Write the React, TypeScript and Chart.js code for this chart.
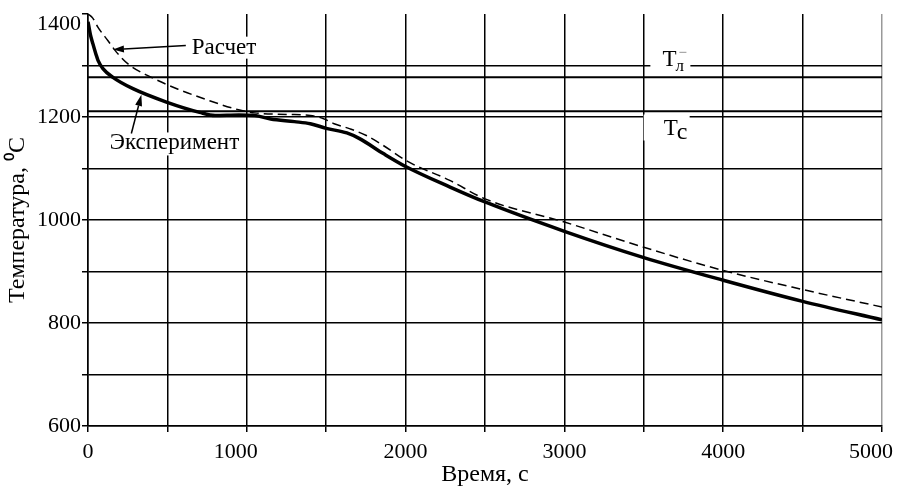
import React, { useEffect, useRef } from "react";
import { Chart, registerables } from "chart.js";

Chart.register(...registerables);

// ---- data ----
const expTime = [0, 15, 31, 50, 63, 94, 157, 283, 494, 703, 800, 950, 1050, 1150, 1300, 1400, 1500, 1630, 1710, 1860, 2000, 2280, 2500, 3000, 3500, 4000, 4500, 5000];
const expTemp = [1385, 1360, 1342, 1322, 1310, 1294, 1277, 1255, 1229, 1209, 1203, 1204, 1203, 1196, 1191, 1187, 1178, 1169, 1158, 1129, 1104, 1064, 1035, 978, 927, 883, 842, 806];

const calcTime = [0, 30, 63, 126, 179, 252, 399, 567, 735, 924, 1050, 1250, 1400, 1480, 1550, 1650, 1753, 1858, 2005, 2278, 2500, 3000, 3500, 4000, 4500, 5000];
const calcTemp = [1400, 1392, 1374, 1348, 1326, 1303, 1277, 1254, 1235, 1216, 1208, 1205, 1203, 1197, 1187, 1177, 1164, 1145, 1115, 1077, 1041, 996, 947, 902, 865, 831];

const liquidusTemp = 1277;
const solidusTemp = 1211;

const xTickLabels = [0, 1000, 2000, 3000, 4000, 5000];
const yTickLabels = [600, 800, 1000, 1200, 1400];

const xTitle = "Время, с";
const yTitle = "Температура, \u2070C";
const calcLabel = "Расчет";
const expLabel = "Эксперимент";

// ---- annotation anchors (data units) ----
const calcText = { t: 653, T: 1323 };
const calcArrow = { t0: 616, T0: 1339, t1: 157, T1: 1331 };
const expText = { t: 137, T: 1137 };
const expArrow = { t0: 273, T0: 1168, t1: 336, T1: 1243 };
const tlAnchor = { t: 3617, T: 1300 };
const tsAnchor = { t: 3625, T: 1166 };

const FONT = '"Liberation Serif", "Times New Roman", serif';

function drawArrow(ctx: CanvasRenderingContext2D, x0: number, y0: number, x1: number, y1: number) {
  const ang = Math.atan2(y1 - y0, x1 - x0);
  const len = 11;
  const half = 3.5;
  const bx = x1 - len * Math.cos(ang);
  const by = y1 - len * Math.sin(ang);
  ctx.beginPath();
  ctx.moveTo(x0, y0);
  ctx.lineTo(bx, by);
  ctx.lineWidth = 1.5;
  ctx.strokeStyle = "#000";
  ctx.stroke();
  ctx.beginPath();
  ctx.moveTo(x1, y1);
  ctx.lineTo(bx + half * Math.sin(ang), by - half * Math.cos(ang));
  ctx.lineTo(bx - half * Math.sin(ang), by + half * Math.cos(ang));
  ctx.closePath();
  ctx.fillStyle = "#000";
  ctx.fill();
}

const annotPlugin = {
  id: "annot",
  afterDatasetsDraw(chart: any) {
    const { ctx, scales } = chart;
    const x = scales.x;
    const y = scales.y;
    ctx.save();
    ctx.textBaseline = "alphabetic";
    ctx.textAlign = "left";

    // Расчет
    ctx.font = `23px ${FONT}`;
    let px = x.getPixelForValue(calcText.t);
    let py = y.getPixelForValue(calcText.T);
    let w = ctx.measureText(calcLabel).width;
    ctx.fillStyle = "#fff";
    ctx.fillRect(px - 3, py - 17, w + 6, 22);
    ctx.fillStyle = "#000";
    ctx.fillText(calcLabel, px, py);
    drawArrow(ctx, x.getPixelForValue(calcArrow.t0), y.getPixelForValue(calcArrow.T0), x.getPixelForValue(calcArrow.t1), y.getPixelForValue(calcArrow.T1));

    // Эксперимент
    px = x.getPixelForValue(expText.t);
    py = y.getPixelForValue(expText.T);
    w = ctx.measureText(expLabel).width;
    ctx.fillStyle = "#fff";
    ctx.fillRect(px - 2, py - 17, w + 4, 23);
    ctx.fillStyle = "#000";
    ctx.fillText(expLabel, px, py);
    drawArrow(ctx, x.getPixelForValue(expArrow.t0), y.getPixelForValue(expArrow.T0), x.getPixelForValue(expArrow.t1), y.getPixelForValue(expArrow.T1));

    // T liquidus label
    px = x.getPixelForValue(tlAnchor.t);
    py = y.getPixelForValue(tlAnchor.T);
    ctx.fillStyle = "#fff";
    ctx.fillRect(px - 12, py - 18, 40, 25);
    ctx.fillStyle = "#000";
    ctx.font = `23px ${FONT}`;
    ctx.fillText("T", px, py);
    const wT = ctx.measureText("T").width;
    ctx.font = `17px ${FONT}`;
    ctx.fillText("л", px + wT - 1, py + 5);
    ctx.fillStyle = "#777";
    ctx.font = `15px ${FONT}`;
    ctx.fillText("\u2212", px + wT + 2, py - 9);

    // T solidus label
    px = x.getPixelForValue(tsAnchor.t);
    py = y.getPixelForValue(tsAnchor.T);
    ctx.fillStyle = "#fff";
    ctx.fillRect(px - 20, py - 20, 46, 26);
    ctx.fillStyle = "#000";
    ctx.font = `23px ${FONT}`;
    ctx.fillText("T", px, py);
    const wT2 = ctx.measureText("T").width;
    ctx.font = `24px ${FONT}`;
    ctx.fillText("с", px + wT2 - 1, py + 4);

    ctx.restore();
  },
};

export default function App() {
  const ref = useRef<HTMLCanvasElement | null>(null);
  useEffect(() => {
    if (!ref.current) return;
    const expData = expTime.map((t, i) => ({ x: t, y: expTemp[i] }));
    const calcData = calcTime.map((t, i) => ({ x: t, y: calcTemp[i] }));
    const chart = new Chart(ref.current, {
      type: "line",
      data: {
        datasets: [
          {
            label: expLabel,
            data: expData,
            borderColor: "#000",
            borderWidth: 3.5,
            pointRadius: 0,
            cubicInterpolationMode: "monotone",
            fill: false,
          },
          {
            label: calcLabel,
            data: calcData,
            borderColor: "#000",
            borderWidth: 1.5,
            borderDash: [9, 5],
            pointRadius: 0,
            cubicInterpolationMode: "monotone",
            fill: false,
          },
          {
            label: "Tл",
            data: [{ x: 0, y: liquidusTemp }, { x: 5000, y: liquidusTemp }],
            borderColor: "#000",
            borderWidth: 2,
            pointRadius: 0,
          },
          {
            label: "Tс",
            data: [{ x: 0, y: solidusTemp }, { x: 5000, y: solidusTemp }],
            borderColor: "#000",
            borderWidth: 2,
            pointRadius: 0,
          },
        ],
      },
      options: {
        animation: false,
        responsive: false,
        layout: { padding: { top: 14, right: 16, left: 0, bottom: 0 } },
        plugins: { legend: { display: false }, tooltip: { enabled: false } },
        scales: {
          x: {
            type: "linear",
            min: 0,
            max: 5000,
            afterFit: (s: any) => {
              s.height = 61;
              s.paddingRight = 0;
              s.paddingLeft = 0;
            },
            ticks: {
              stepSize: 500,
              autoSkip: false,
              maxRotation: 0,
              padding: 7,
              color: "#000",
              font: { family: FONT, size: 22 },
              callback: (v: any) => {
                const n = Number(v);
                if (!xTickLabels.includes(n)) return "";
                return n === 5000 || n === 1000 ? String(n) + "\u00a0\u00a0\u00a0\u00a0" : String(n);
              },
            },
            grid: {
              color: (c: any) => (c.tick && c.tick.value === 5000 ? "#999" : "#000"),
              tickColor: "#000",
              lineWidth: 1.5,
              tickLength: 6,
            },
            border: { display: true, color: "#000", width: 1.5 },
            title: {
              display: true,
              text: xTitle,
              color: "#000",
              font: { family: FONT, size: 24, lineHeight: 1.0 },
              padding: { top: 0, bottom: 0 },
            },
          },
          y: {
            type: "linear",
            min: 600,
            max: 1400,
            afterFit: (s: any) => {
              s.width = 88;
              s.paddingTop = 0;
              s.paddingBottom = 0;
            },
            ticks: {
              stepSize: 100,
              autoSkip: false,
              padding: 1,
              color: "#000",
              font: { family: FONT, size: 22, lineHeight: 0.95 },
              callback: (v: any) => {
                const n = Number(v);
                if (!yTickLabels.includes(n)) return "";
                return n === 1400 ? ["", "1400"] : String(n);
              },
            },
            grid: {
              color: (c: any) => (c.tick && c.tick.value === 1400 ? "rgba(0,0,0,0)" : "#000"),
              tickColor: "#000",
              lineWidth: 1.5,
              tickLength: 6,
            },
            border: { display: true, color: "#000", width: 1.5 },
            title: {
              display: true,
              text: yTitle,
              color: "#000",
              font: { family: FONT, size: 24, lineHeight: 1.2 },
              padding: { top: 3, bottom: 0 },
            },
          },
        },
      },
      plugins: [annotPlugin],
    } as any);
    return () => chart.destroy();
  }, []);
  return (
    <canvas
      ref={ref}
      width={898}
      height={487}
      style={{ position: "fixed", left: 0, top: 0, width: 898, height: 487, background: "#fff" }}
    />
  );
}
